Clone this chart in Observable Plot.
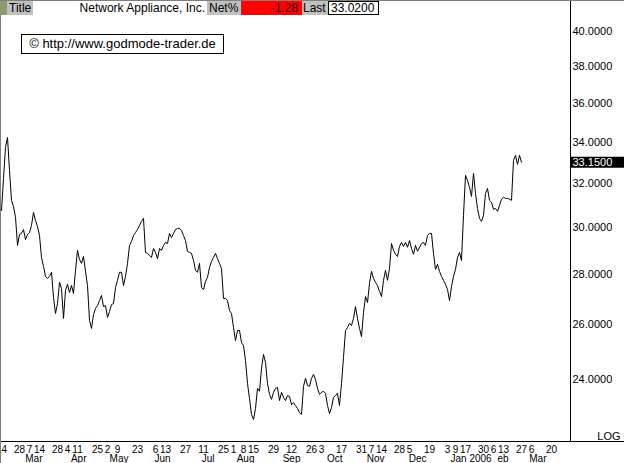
<!DOCTYPE html>
<html>
<head>
<meta charset="utf-8">
<script src="https://cdn.jsdelivr.net/npm/d3@7"></script>
<script src="https://cdn.jsdelivr.net/npm/@observablehq/plot@0.6"></script>
<style>
  html, body { margin: 0; padding: 0; background: #fff; }
  #wrap { position: relative; width: 624px; height: 463px; overflow: hidden;
          font-family: "Liberation Sans", Arial, sans-serif; color: #000; }
  #chart { position: absolute; left: 0; top: 0; }
  #topline { position: absolute; left: 0; top: 0; width: 624px; height: 1px; background: #808078; }
  #leftline { position: absolute; left: 0; top: 0; width: 1px; height: 463px; background: #808078; }
  .box { position: absolute; top: 1px; height: 14px; font-size: 12px; line-height: 14px;
         white-space: nowrap; box-sizing: border-box; overflow: hidden; }
  #copy { position: absolute; left: 21px; top: 34px; width: 203px; height: 20px; box-sizing: border-box;
          border: 1px solid #000; background: #fff; font-size: 13px; line-height: 18px; text-align: center; white-space: nowrap; }
</style>
</head>
<body>
<div id="wrap">
  <div id="chart"></div>
  <div id="topline"></div>
  <div id="leftline"></div>
  <div id="hdr"></div>
  <div id="copy"></div>
</div>
<script>
// ---------- data ----------
const securityName = "Network Appliance, Inc.";
const netPercent = -1.28;
const lastPrice = 33.02;
const markerValue = 33.15;
const copyrightText = "\u00A9 http://www.godmode-trader.de";
const scaleLabel = "LOG";

const firstSessionDate = "2005-02-14";
const holidays = ["2005-02-21","2005-03-25","2005-05-30","2005-07-04","2005-09-05",
                  "2005-11-24","2005-12-26","2006-01-02","2006-01-16","2006-02-20"];

// daily closes, one per trading session starting at firstSessionDate
const closes = [
  30.76, 32.24, 33.74, 34.24, 32.62, 31.22, 30.94, 30.45, 29.22, 29.69,
  29.74, 29.91, 29.47, 29.69, 29.78, 30.09, 30.67, 30.31, 30.04, 29.65,
  28.71, 28.33, 27.92, 27.84, 27.92, 28.09, 27.07, 26.44, 26.83, 27.68,
  27.43, 26.25, 27.35, 27.60, 27.27, 27.55, 27.23, 28.17, 29.01, 28.62,
  28.46, 28.75, 28.13, 27.55, 26.17, 25.87, 26.40, 26.64, 26.75, 26.95,
  27.15, 26.71, 26.75, 26.29, 26.52, 26.79, 26.83, 27.47, 27.76, 28.09,
  28.09, 27.55, 27.92, 28.46, 29.22, 29.39, 29.65, 29.78, 29.91, 30.09,
  30.27, 30.40, 28.92, 28.88, 28.79, 28.71, 29.09, 28.92, 28.66, 29.09,
  29.01, 29.22, 29.35, 29.30, 29.74, 29.56, 29.74, 29.91, 29.96, 29.96,
  29.87, 29.65, 29.43, 28.97, 28.92, 28.88, 28.58, 28.17, 28.09, 28.46,
  27.47, 27.39, 27.72, 27.88, 28.29, 28.54, 28.71, 28.88, 28.66, 28.46,
  28.25, 27.03, 27.03, 26.95, 26.56, 26.44, 25.90, 25.41, 25.79, 25.79,
  25.34, 25.22, 24.68, 23.86, 23.34, 22.80, 22.63, 23.00, 23.69, 23.59,
  24.39, 24.90, 24.61, 23.86, 23.48, 23.31, 23.55, 23.69, 23.72, 23.27,
  23.55, 23.38, 23.27, 23.44, 23.41, 23.13, 23.20, 23.10, 23.00, 22.86,
  22.80, 23.76, 24.04, 23.79, 23.76, 24.04, 24.18, 24.00, 23.69, 23.48,
  23.55, 23.59, 23.52, 23.10, 22.83, 23.03, 23.38, 23.44, 23.52, 23.10,
  23.86, 24.79, 25.79, 25.90, 26.06, 25.98, 26.25, 26.71, 26.25, 25.87,
  25.56, 26.48, 27.11, 26.87, 27.64, 28.13, 27.84, 27.68, 27.55, 27.31,
  27.11, 27.76, 28.17, 27.76, 28.25, 29.30, 29.01, 28.84, 28.75, 29.18,
  29.35, 29.18, 29.35, 29.14, 29.43, 29.09, 28.84, 29.22, 28.97, 29.14,
  29.30, 29.35, 29.22, 29.65, 29.74, 29.74, 28.88, 28.21, 28.42, 28.13,
  27.92, 27.76, 27.60, 27.39, 26.95, 27.51, 27.92, 28.21, 28.71, 28.92,
  28.58, 30.54, 32.39, 32.15, 31.82, 31.40, 32.48, 31.54, 30.85, 30.40,
  30.27, 30.54, 31.54, 31.77, 31.22, 31.13, 30.81, 30.85, 30.72, 30.99,
  31.27, 31.36, 31.31, 31.31, 31.27, 31.22, 33.10, 33.35, 32.91, 33.35,
  33.02
];

const yTicks = [24, 26, 28, 30, 32, 34, 36, 38, 40];

const dayTickDates = [
  "2005-02-14","2005-02-28","2005-03-07","2005-03-14","2005-03-28","2005-04-04","2005-04-11",
  "2005-04-25","2005-05-02","2005-05-09","2005-05-23","2005-06-06","2005-06-13","2005-06-27",
  "2005-07-11","2005-07-25","2005-08-01","2005-08-08","2005-08-15","2005-08-29","2005-09-12",
  "2005-09-26","2005-10-03","2005-10-17","2005-10-31","2005-11-07","2005-11-14","2005-11-28",
  "2005-12-05","2005-12-19","2006-01-03","2006-01-09","2006-01-17","2006-01-30","2006-02-06",
  "2006-02-13","2006-02-27","2006-03-06","2006-03-20"
];

const monthStarts = ["2005-03","2005-04","2005-05","2005-06","2005-07","2005-08","2005-09",
                     "2005-10","2005-11","2005-12","2006-01","2006-02","2006-03"];
const monthNames  = ["Mar","Apr","May","Jun","Jul","Aug","Sep","Oct","Nov","Dec","Jan 2006","eb","Mar"];

// ---------- trading calendar ----------
const tradingDays = [];
{
  let t = Date.parse(firstSessionDate + "T00:00:00Z");
  const end = Date.parse("2006-03-31T00:00:00Z");
  for (; t <= end; t += 864e5) {
    const d = new Date(t);
    const wd = d.getUTCDay();
    const iso = d.toISOString().slice(0, 10);
    if (wd === 0 || wd === 6 || holidays.includes(iso)) continue;
    tradingDays.push(iso);
  }
}
const sessionOf = iso => tradingDays.findIndex(t => t >= iso);

const series = closes.map((c, i) => ({session: i, date: tradingDays[i], close: c}));
const dayTicks = dayTickDates.map(d => ({session: sessionOf(d), label: String(+d.slice(8))}));
const monthTicks = monthStarts.map((m, i) => ({session: sessionOf(m + "-01") + 6, label: monthNames[i]}));

// ---------- layout ----------
const W = 624, H = 463;
const axisSession = 284.5;        // price axis position (session units)
const xDomain = [-0.5, 311.5];    // 2 px per session across full width
const yDomain = [21.912, 41.862]; // log scale, frame 0..441 px
const lastClose = closes[closes.length - 1];

const chart = Plot.plot({
  width: W, height: H,
  marginLeft: 0, marginRight: 0, marginTop: 0, marginBottom: 22,
  x: {type: "linear", domain: xDomain, axis: null},
  y: {type: "log", domain: yDomain, axis: null},
  style: {fontFamily: "'Liberation Sans', Arial, sans-serif", fontSize: "11px", background: "transparent", overflow: "visible"},
  marks: [
    Plot.frame({anchor: "bottom", stroke: "#000"}),
    Plot.ruleX([axisSession], {stroke: "#000"}),
    Plot.lineY(series, {x: "session", y: "close", stroke: "#000", strokeWidth: 1}),
    Plot.text(yTicks, {x: () => axisSession, y: d => d, text: d => d.toFixed(4),
      textAnchor: "start", dx: 2, fontSize: 11, fill: "#000"}),
    Plot.ruleY([lastClose], {x1: () => axisSession, x2: () => xDomain[1], stroke: "#000", strokeWidth: 11}),
    Plot.text([markerValue], {x: () => axisSession, y: () => lastClose, text: d => d.toFixed(4),
      textAnchor: "start", dx: 2, fontSize: 11, fill: "#fff"}),
    Plot.text(dayTicks, {x: "session", text: "label", frameAnchor: "bottom", lineAnchor: "bottom",
      dy: 11, fontSize: 10, fill: "#000"}),
    Plot.text(monthTicks.filter(d => !d.label.includes(" ")), {x: "session", text: "label",
      frameAnchor: "bottom", lineAnchor: "bottom", textAnchor: "end", dx: 9, dy: 20, fontSize: 10, fill: "#000"}),
    Plot.text(monthTicks.filter(d => d.label.includes(" ")), {x: "session", text: "label",
      frameAnchor: "bottom", lineAnchor: "bottom", textAnchor: "start", dx: -9, dy: 20, fontSize: 10, fill: "#000"}),
    Plot.text([scaleLabel], {frameAnchor: "bottom-right", text: d => d, textAnchor: "end",
      lineAnchor: "bottom", dx: -4, dy: -2, fontSize: 11, fill: "#000"})
  ]
});
document.getElementById("chart").appendChild(chart);

// ---------- header ----------
const hdr = document.getElementById("hdr");
const boxes = [
  {left: 0,   width: 7,   bg: "#8c9a70", text: ""},
  {left: 7,   width: 26,  bg: "#c0c0c0", text: "Title", pad: "0 0 0 2px"},
  {left: 33,  width: 174, bg: "#ffffff", text: securityName, align: "right", pad: "0 2px 0 0"},
  {left: 207, width: 34,  bg: "#c0c0c0", text: "Net%", pad: "0 0 0 2px"},
  {left: 241, width: 61,  bg: "#ff0000", text: netPercent.toFixed(2), align: "right", pad: "0 4px 0 0", color: "#300000"},
  {left: 302, width: 26,  bg: "#c0c0c0", text: "Last", pad: "0 0 0 1px"},
  {left: 328, width: 51,  bg: "#ffffff", text: lastPrice.toFixed(4), pad: "0 0 0 2px", border: true}
];
for (const b of boxes) {
  const el = document.createElement("div");
  el.className = "box";
  el.style.left = b.left + "px";
  el.style.width = b.width + "px";
  el.style.background = b.bg;
  el.style.textAlign = b.align || "left";
  el.style.padding = b.pad || "0";
  if (b.color) el.style.color = b.color;
  if (b.border) { el.style.border = "1px solid #000"; el.style.lineHeight = "12px"; }
  el.textContent = b.text;
  hdr.appendChild(el);
}
document.getElementById("copy").textContent = copyrightText;
</script>
</body>
</html>
